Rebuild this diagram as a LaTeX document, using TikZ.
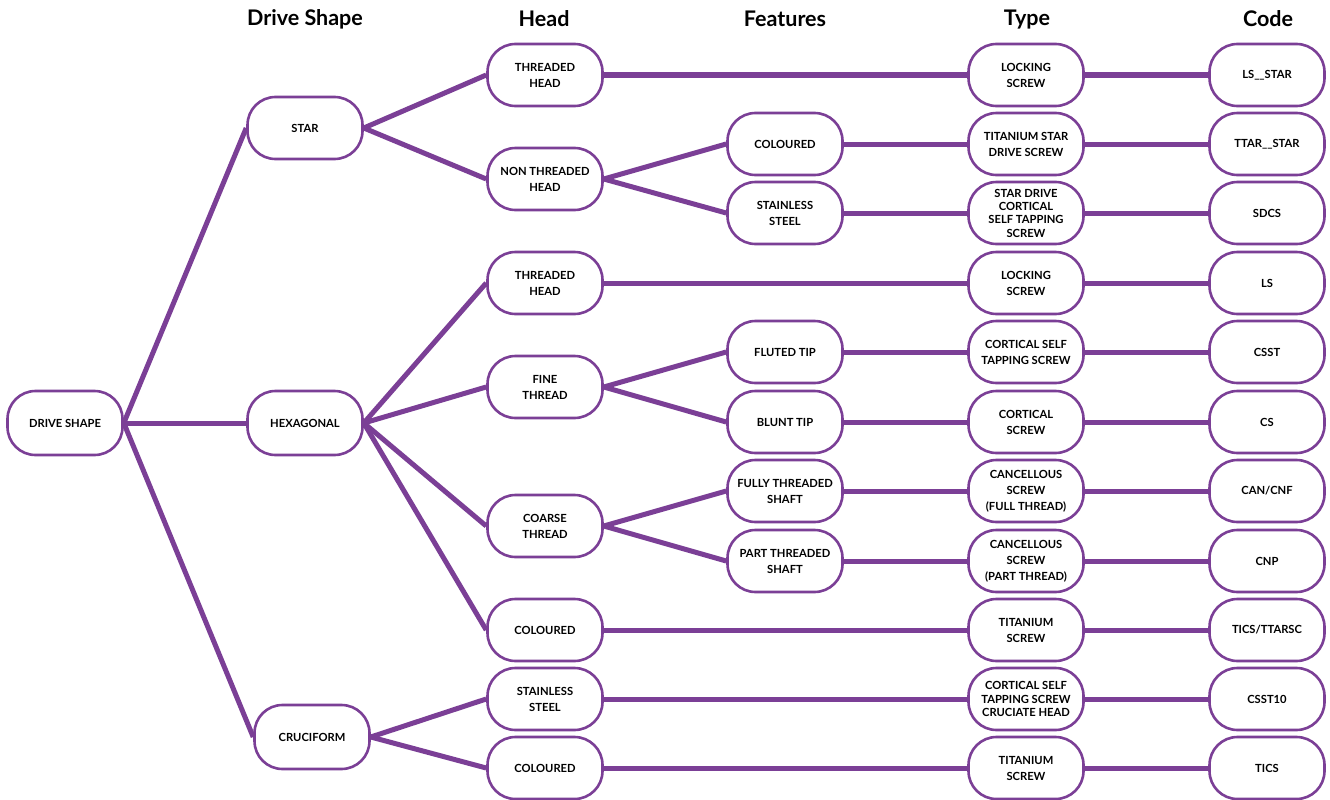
\documentclass[tikz,border=0pt]{standalone}
\usepackage{fontspec}
\setmainfont{Lato}
\usetikzlibrary{backgrounds}
\definecolor{purp}{HTML}{7B3F96}
\begin{document}
\begin{tikzpicture}[x=1pt,y=-1pt,
  box/.style={draw=purp, line width=2.6pt, fill=white, rounded corners=28pt,
    minimum width=115pt, minimum height=62pt, align=center, inner sep=2pt,
    font=\bfseries\fontsize{11.2}{16}\selectfont},
  tight/.style={font=\bfseries\fontsize{11.2}{13.3}\selectfont},
  hdr/.style={font=\bfseries\fontsize{21.5}{24}\selectfont},
  link/.style={draw=purp, line width=5pt}]
\useasboundingbox (0,0) rectangle (1330,800);
% headers
\node[hdr] (h1) at (305,19) {Drive Shape};
\node[hdr] (h2) at (544,19) {Head};
\node[hdr] (h3) at (785,19) {Features};
\node[hdr] (h4) at (1027,20) {Type};
\node[hdr] (h5) at (1268,19) {Code};
% column 1
\node[box, minimum height=64pt] (ds) at (65,423) {DRIVE SHAPE};
% column 2
\node[box] (star) at (305,128) {STAR};
\node[box, minimum height=64pt] (hex) at (305,423) {HEXAGONAL};
\node[box, minimum height=64pt] (cru) at (312,737) {CRUCIFORM};
% column 3 (head)
\node[box] (th1) at (545,75) {THREADED\\HEAD};
\node[box] (nth) at (545,179) {NON THREADED\\HEAD};
\node[box] (th2) at (545,283) {THREADED\\HEAD};
\node[box] (fine) at (545,387) {FINE\\THREAD};
\node[box] (coarse) at (545,526) {COARSE\\THREAD};
\node[box] (col1) at (545,630) {COLOURED};
\node[box] (ss2) at (545,699) {STAINLESS\\STEEL};
\node[box] (col2) at (545,768) {COLOURED};
% column 4 (features)
\node[box] (fcol) at (785,144) {COLOURED};
\node[box] (fss) at (785,213) {STAINLESS\\STEEL};
\node[box] (flut) at (785,352) {FLUTED TIP};
\node[box] (blunt) at (785,422) {BLUNT TIP};
\node[box] (fully) at (785,491) {FULLY THREADED\\SHAFT};
\node[box] (part) at (785,561) {PART THREADED\\SHAFT};
% column 5 (type)
\node[box] (t1) at (1026,75) {LOCKING\\SCREW};
\node[box] (t2) at (1026,144) {TITANIUM STAR\\DRIVE SCREW};
\node[box, tight] (t3) at (1026,213) {STAR DRIVE\\CORTICAL\\SELF TAPPING\\SCREW};
\node[box] (t4) at (1026,283) {LOCKING\\SCREW};
\node[box] (t5) at (1026,352) {CORTICAL SELF\\TAPPING SCREW};
\node[box] (t6) at (1026,422) {CORTICAL\\SCREW};
\node[box] (t7) at (1026,491) {CANCELLOUS\\SCREW\\(FULL THREAD)};
\node[box] (t8) at (1026,561) {CANCELLOUS\\SCREW\\(PART THREAD)};
\node[box] (t9) at (1026,630) {TITANIUM\\SCREW};
\node[box, tight] (t10) at (1026,699) {CORTICAL SELF\\TAPPING SCREW\\CRUCIATE HEAD};
\node[box] (t11) at (1026,768) {TITANIUM\\SCREW};
% column 6 (code)
\node[box] (c1) at (1267,75) {LS\_\_STAR};
\node[box] (c2) at (1267,144) {TTAR\_\_STAR};
\node[box] (c3) at (1267,213) {SDCS};
\node[box] (c4) at (1267,283) {LS};
\node[box] (c5) at (1267,352) {CSST};
\node[box] (c6) at (1267,422) {CS};
\node[box] (c7) at (1267,491) {CAN/CNF};
\node[box] (c8) at (1267,561) {CNP};
\node[box] (c9) at (1267,630) {TICS/TTARSC};
\node[box] (c10) at (1267,699) {CSST10};
\node[box] (c11) at (1267,768) {TICS};
\begin{pgfonlayer}{background}
\draw[link] (ds.east) -- (star.west);
\draw[link] (ds.east) -- (hex.west);
\draw[link] (ds.east) -- (cru.west);
\draw[link] (star.east) -- (th1.west);
\draw[link] (star.east) -- (nth.west);
\draw[link] (hex.east) -- (th2.west);
\draw[link] (hex.east) -- (fine.west);
\draw[link] (hex.east) -- (coarse.west);
\draw[link] (hex.east) -- (col1.west);
\draw[link] (cru.east) -- (ss2.west);
\draw[link] (cru.east) -- (col2.west);
\draw[link] (nth.east) -- (fcol.west);
\draw[link] (nth.east) -- (fss.west);
\draw[link] (fine.east) -- (flut.west);
\draw[link] (fine.east) -- (blunt.west);
\draw[link] (coarse.east) -- (fully.west);
\draw[link] (coarse.east) -- (part.west);
\draw[link] (th1.east) -- (t1.west);
\draw[link] (fcol.east) -- (t2.west);
\draw[link] (fss.east) -- (t3.west);
\draw[link] (th2.east) -- (t4.west);
\draw[link] (flut.east) -- (t5.west);
\draw[link] (blunt.east) -- (t6.west);
\draw[link] (fully.east) -- (t7.west);
\draw[link] (part.east) -- (t8.west);
\draw[link] (col1.east) -- (t9.west);
\draw[link] (ss2.east) -- (t10.west);
\draw[link] (col2.east) -- (t11.west);
\draw[link] (t1.east) -- (c1.west);
\draw[link] (t2.east) -- (c2.west);
\draw[link] (t3.east) -- (c3.west);
\draw[link] (t4.east) -- (c4.west);
\draw[link] (t5.east) -- (c5.west);
\draw[link] (t6.east) -- (c6.west);
\draw[link] (t7.east) -- (c7.west);
\draw[link] (t8.east) -- (c8.west);
\draw[link] (t9.east) -- (c9.west);
\draw[link] (t10.east) -- (c10.west);
\draw[link] (t11.east) -- (c11.west);
\end{pgfonlayer}
\end{tikzpicture}
\end{document}
